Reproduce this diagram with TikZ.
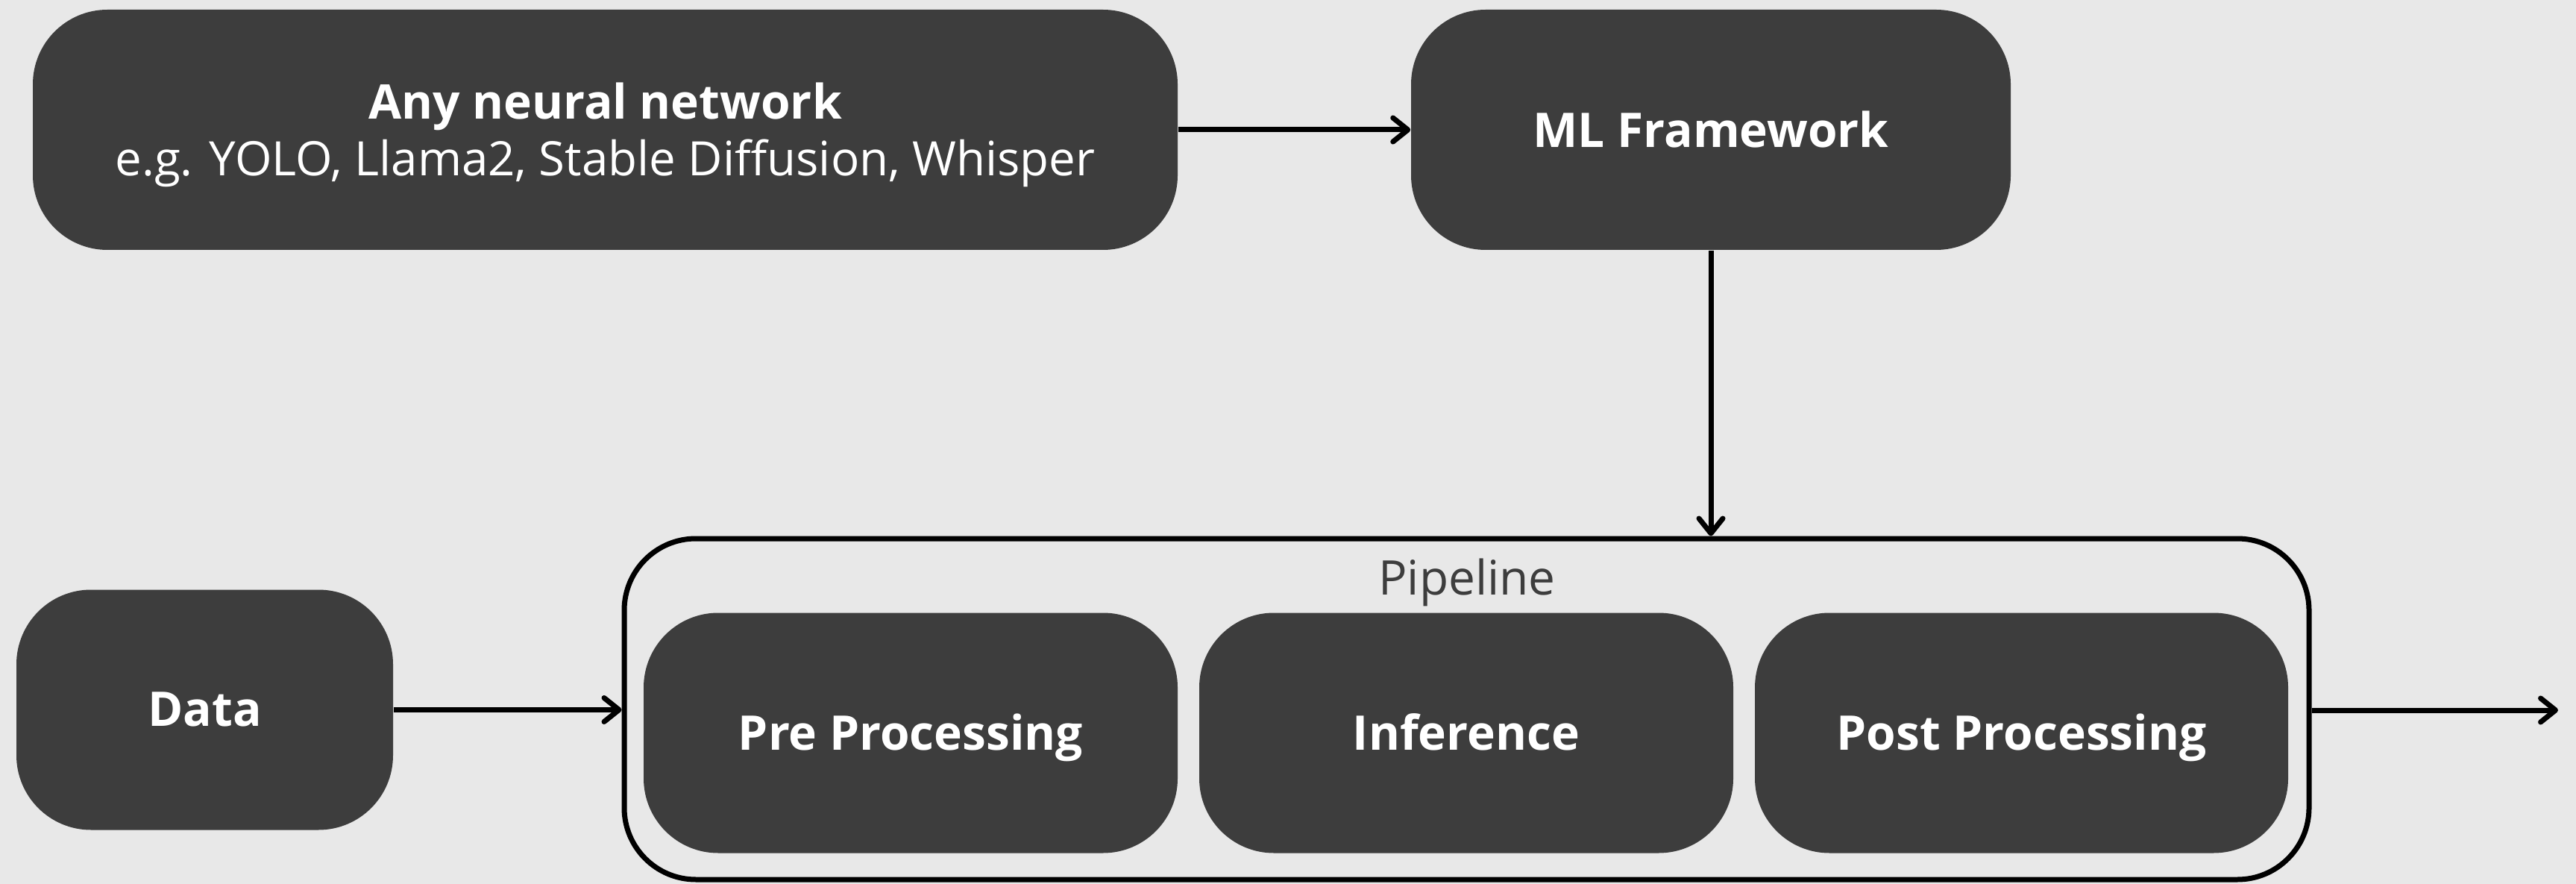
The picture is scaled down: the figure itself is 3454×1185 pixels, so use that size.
\documentclass[tikz,border=0pt]{standalone}
\usepackage{fontspec}
\setmainfont{Open Sans}
\usetikzlibrary{arrows.meta}
\definecolor{bgcol}{HTML}{E8E8E8}
\definecolor{boxcol}{HTML}{3D3D3D}
\begin{document}
\begin{tikzpicture}[x=0.25pt,y=-0.25pt,
  block/.style={fill=boxcol, draw=none, rounded corners=25pt, inner sep=0pt,
    minimum height=80.5pt},
  frame/.style={draw=black, line width=1.75pt, rounded corners=24pt, inner sep=0pt},
  title/.style={text=white, inner sep=0pt, anchor=base,
    font=\fontsize{16pt}{19pt}\selectfont\bfseries},
  subtitle/.style={text=white, inner sep=0pt, anchor=base,
    font=\fontsize{15.9pt}{19pt}\selectfont},
  grouplabel/.style={text=boxcol, inner sep=0pt, anchor=base,
    font=\fontsize{16pt}{19pt}\selectfont},
  link/.style={draw=black, line width=1.75pt,
    -{Straight Barb[length=5pt,width=8pt,round]}}]

% canvas
\fill[bgcol] (0,0) rectangle (3454,1185);
\useasboundingbox (0,0) rectangle (3454,1185);

% top row
\node[block, minimum width=383.75pt] (ann) at (811.5,174) {};
\node[title] (annT) at (811.5,160) {Any neural network};
\node[subtitle] (annS) at (811.5,236) {e.g. YOLO, Llama2, Stable Diffusion, Whisper};

\node[block, minimum width=201pt] (mlf) at (2294,174) {};
\node[title] (mlfT) at (2294,198) {ML Framework};

% input
\node[block, minimum width=126.25pt] (data) at (274.5,951.5) {};
\node[title] (dataT) at (274.5,973) {Data};

% pipeline group
\node[frame, minimum width=564.75pt, minimum height=114.25pt] (pipe) at (1966.5,950.5) {};
\node[grouplabel] (pipeT) at (1967,797) {Pipeline};

\node[block, minimum width=179pt] (pre) at (1221,982.5) {};
\node[title] (preT) at (1221,1005) {Pre Processing};
\node[block, minimum width=179pt] (inf) at (1966,982.5) {};
\node[title] (infT) at (1966,1005) {Inference};
\node[block, minimum width=178.75pt] (post) at (2710.5,982.5) {};
\node[title] (postT) at (2710.5,1005) {Post Processing};

\coordinate (out) at (3430,952);

% connectors
\draw[link] (ann.east) -- (mlf.west);
\draw[link] (mlf.south) -- (mlf.south |- pipe.north);
\draw[link] (data.east) -- (data.east -| pipe.west);
\draw[link] (pipe.east |- out) -- (out);
\end{tikzpicture}
\end{document}
